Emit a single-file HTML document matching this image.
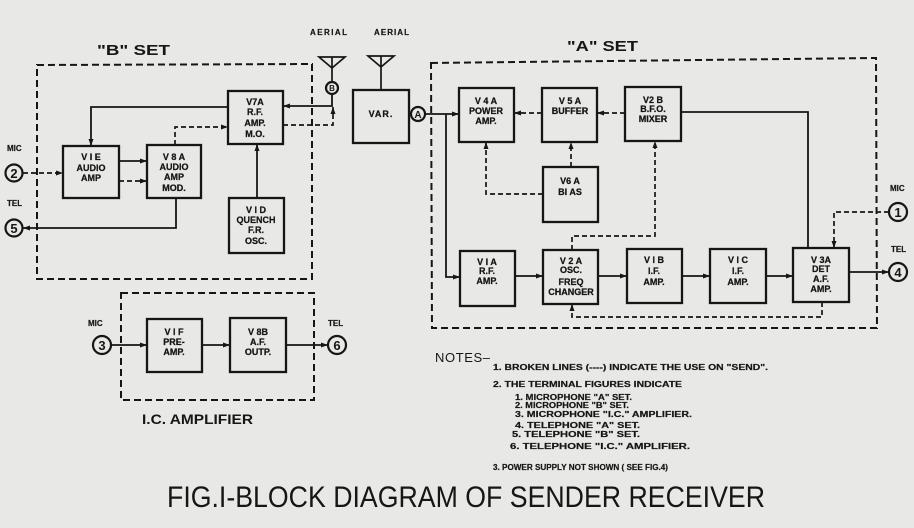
<!DOCTYPE html>
<html><head><meta charset="utf-8"><style>
html,body{margin:0;padding:0;background:#e8e8e6;}
svg{display:block;}
text{font-family:"Liberation Sans",sans-serif;fill:#161616;}
.b{font-weight:bold;font-size:9px;text-anchor:middle;stroke:#161616;stroke-width:0.25;}
.s{font-weight:bold;font-size:8px;stroke:#161616;stroke-width:0.2;}
.n{font-weight:bold;font-size:8px;stroke:#161616;stroke-width:0.2;}
</style></head><body>
<svg width="914" height="528" viewBox="0 0 914 528" xmlns="http://www.w3.org/2000/svg">
<defs>
<marker id="a" markerWidth="7" markerHeight="5" refX="7" refY="2.5" orient="auto" markerUnits="userSpaceOnUse"><path d="M0,0 L7,2.5 L0,5z" fill="#161616"/></marker>
</defs>
<rect width="914" height="528" fill="#e8e8e6"/>

<g fill="none" stroke="#161616">
<!-- dashed set outlines -->
<g stroke-width="2" stroke-dasharray="7 4">
<path d="M37,65 L312,64 L312,279 L37,279 Z"/>
<path d="M431,63 L876,58 L877,328 L432,328 Z"/>
<path d="M121,293 L314,293 L314,400 L121,400 Z"/>
</g>
<!-- boxes -->
<g stroke-width="2.3">
<rect x="63" y="146" width="56" height="52"/>
<rect x="147" y="145" width="54" height="53"/>
<rect x="228" y="91" width="55" height="53"/>
<rect x="229" y="198" width="55" height="55"/>
<rect x="353" y="90" width="56" height="53"/>
<rect x="459" y="88" width="55" height="54"/>
<rect x="542" y="88" width="55" height="54"/>
<rect x="625" y="87" width="56" height="54"/>
<rect x="543" y="167" width="55" height="55"/>
<rect x="460" y="251" width="55" height="55"/>
<rect x="543" y="250" width="55" height="54"/>
<rect x="627" y="249" width="55" height="54"/>
<rect x="710" y="249" width="56" height="54"/>
<rect x="793" y="248" width="56" height="54"/>
<rect x="147" y="319" width="55" height="53"/>
<rect x="230" y="318" width="56" height="54"/>
</g>
<!-- terminal circles -->
<g stroke-width="2.2">
<circle cx="14" cy="173" r="8.5"/>
<circle cx="14" cy="228" r="8.5"/>
<circle cx="898" cy="212" r="9"/>
<circle cx="898" cy="272" r="9"/>
<circle cx="102" cy="345" r="9"/>
<circle cx="337" cy="345" r="9"/>
<circle cx="332" cy="88" r="6"/>
<circle cx="418" cy="114" r="7"/>
</g>
<!-- aerials -->
<g stroke-width="1.7">
<path d="M319,57 L345,57 L332,68 Z M332,57 L332,82"/>
<path d="M368,56 L394,56 L381,67 Z M381,56 L381,90"/>
</g>
<!-- solid connectors -->
<g stroke-width="1.8">
<path d="M228,107 L91,107 L91,146" marker-end="url(#a)"/>
<path d="M119,161 L147,161" marker-end="url(#a)"/>
<path d="M176,198 L176,228 L23,228" marker-end="url(#a)"/>
<path d="M257,198 L257,144" marker-end="url(#a)"/>
<path d="M332,94 L332,106 L283,106" marker-end="url(#a)"/>
<path d="M425,114 L459,114" marker-end="url(#a)"/>
<path d="M446,114 L446,277 L460,277" marker-end="url(#a)"/>
<path d="M681,112 L808,112 L808,248"/>
<path d="M849,272 L889,272" marker-end="url(#a)"/>
<path d="M515,276 L543,276" marker-end="url(#a)"/>
<path d="M598,276 L627,276" marker-end="url(#a)"/>
<path d="M682,276 L710,276" marker-end="url(#a)"/>
<path d="M766,276 L793,276" marker-end="url(#a)"/>
<path d="M111,345 L147,345" marker-end="url(#a)"/>
<path d="M202,345 L230,345" marker-end="url(#a)"/>
<path d="M286,345 L328,345" marker-end="url(#a)"/>
</g>
<!-- dashed connectors -->
<g stroke-width="1.7" stroke-dasharray="5 3">
<path d="M175,145 L175,127 L228,127" marker-end="url(#a)"/>
<path d="M119,181 L147,181" marker-end="url(#a)"/>
<path d="M23,173 L63,173" marker-end="url(#a)"/>
<path d="M283,125 L333,125 L333,107" marker-end="url(#a)"/>
<path d="M625,113 L597,113" marker-end="url(#a)"/>
<path d="M542,113 L514,113" marker-end="url(#a)"/>
<path d="M571,167 L571,142" marker-end="url(#a)"/>
<path d="M543,194 L486,194 L486,142" marker-end="url(#a)"/>
<path d="M889,212 L834,212 L834,248" marker-end="url(#a)"/>
<path d="M572,250 L572,236 L655,236 L655,141" marker-end="url(#a)"/>
<path d="M822,302 L822,317 L572,317 L572,304" marker-end="url(#a)"/>
</g>
</g>

<!-- set titles -->
<text x="97" y="55" font-size="15" font-weight="bold" textLength="73" lengthAdjust="spacingAndGlyphs">"B" SET</text>
<text x="567" y="51" font-size="15" font-weight="bold" textLength="71" lengthAdjust="spacingAndGlyphs">"A" SET</text>
<text class="s" x="310" y="35" textLength="37">AERIAL</text>
<text class="s" x="374" y="35" textLength="35">AERIAL</text>

<!-- terminal labels -->
<text class="s" x="7" y="151">MIC</text>
<text class="s" x="7" y="206">TEL</text>
<text class="s" x="890" y="191">MIC</text>
<text class="s" x="891" y="252">TEL</text>
<text class="s" x="88" y="326">MIC</text>
<text class="s" x="328" y="326">TEL</text>
<g font-weight="bold" font-size="13" text-anchor="middle">
<text x="14" y="178">2</text>
<text x="14" y="233">5</text>
<text x="898" y="217">1</text>
<text x="898" y="277">4</text>
<text x="102" y="350">3</text>
<text x="337" y="350">6</text>
</g>
<text x="332" y="91" font-size="8" font-weight="bold" text-anchor="middle">B</text>
<text x="418" y="118" font-size="10" font-weight="bold" text-anchor="middle">A</text>

<!-- box labels -->
<text class="b" x="91" y="160">V I E</text>
<text class="b" x="91" y="171">AUDIO</text>
<text class="b" x="91" y="181">AMP</text>

<text class="b" x="174" y="160">V 8 A</text>
<text class="b" x="174" y="170">AUDIO</text>
<text class="b" x="174" y="180">AMP</text>
<text class="b" x="174" y="191">MOD.</text>

<text class="b" x="255" y="105">V7A</text>
<text class="b" x="255" y="115">R.F.</text>
<text class="b" x="255" y="126">AMP.</text>
<text class="b" x="255" y="137">M.O.</text>

<text class="b" x="256" y="213">V I D</text>
<text class="b" x="256" y="223">QUENCH</text>
<text class="b" x="256" y="233">F.R.</text>
<text class="b" x="256" y="244">OSC.</text>

<text class="b" x="381" y="117" letter-spacing="1">VAR.</text>

<text class="b" x="486" y="104">V 4 A</text>
<text class="b" x="486" y="114">POWER</text>
<text class="b" x="486" y="124">AMP.</text>

<text class="b" x="570" y="104">V 5 A</text>
<text class="b" x="570" y="114">BUFFER</text>

<text class="b" x="653" y="103">V2 B</text>
<text class="b" x="653" y="112">B.F.O.</text>
<text class="b" x="653" y="122">MIXER</text>

<text class="b" x="570" y="184">V6 A</text>
<text class="b" x="570" y="195">BI AS</text>

<text class="b" x="487" y="265">V I A</text>
<text class="b" x="487" y="274">R.F.</text>
<text class="b" x="487" y="284">AMP.</text>

<text class="b" x="571" y="264">V 2 A</text>
<text class="b" x="571" y="273">OSC.</text>
<text class="b" x="571" y="285">FREQ</text>
<text class="b" x="571" y="295">CHANGER</text>

<text class="b" x="654" y="263">V I B</text>
<text class="b" x="654" y="274">I.F.</text>
<text class="b" x="654" y="285">AMP.</text>

<text class="b" x="738" y="263">V I C</text>
<text class="b" x="738" y="274">I.F.</text>
<text class="b" x="738" y="285">AMP.</text>

<text class="b" x="821" y="263">V 3A</text>
<text class="b" x="821" y="272">DET</text>
<text class="b" x="821" y="282">A.F.</text>
<text class="b" x="821" y="292">AMP.</text>

<text class="b" x="174" y="335">V I F</text>
<text class="b" x="174" y="345">PRE-</text>
<text class="b" x="174" y="355">AMP.</text>

<text class="b" x="258" y="335">V 8B</text>
<text class="b" x="258" y="345">A.F.</text>
<text class="b" x="258" y="355">OUTP.</text>

<text x="142" y="424" font-size="14" font-weight="bold" textLength="111" lengthAdjust="spacingAndGlyphs">I.C. AMPLIFIER</text>

<!-- notes -->
<text x="435" y="362" font-size="13" textLength="55">NOTES–</text>
<text class="n" x="493" y="370" textLength="275" lengthAdjust="spacingAndGlyphs">1. BROKEN LINES (----) INDICATE THE USE ON "SEND".</text>
<text class="n" x="493" y="387" textLength="189" lengthAdjust="spacingAndGlyphs">2. THE TERMINAL FIGURES INDICATE</text>
<text class="n" x="515" y="400" textLength="117" lengthAdjust="spacingAndGlyphs">1. MICROPHONE "A" SET.</text>
<text class="n" x="515" y="408" textLength="114" lengthAdjust="spacingAndGlyphs">2. MICROPHONE "B" SET.</text>
<text class="n" x="515" y="417" textLength="177" lengthAdjust="spacingAndGlyphs">3. MICROPHONE "I.C." AMPLIFIER.</text>
<text class="n" x="515" y="428" textLength="125" lengthAdjust="spacingAndGlyphs">4. TELEPHONE "A" SET.</text>
<text class="n" x="512" y="437" textLength="128" lengthAdjust="spacingAndGlyphs">5. TELEPHONE "B" SET.</text>
<text class="n" x="510" y="449" textLength="180" lengthAdjust="spacingAndGlyphs">6. TELEPHONE "I.C." AMPLIFIER.</text>
<text class="n" x="493" y="470" textLength="175" lengthAdjust="spacingAndGlyphs">3. POWER SUPPLY NOT SHOWN ( SEE FIG.4)</text>

<!-- title -->
<text x="167" y="507" font-size="30" textLength="598" lengthAdjust="spacingAndGlyphs">FIG.I-BLOCK DIAGRAM OF SENDER RECEIVER</text>
</svg>
</body></html>
